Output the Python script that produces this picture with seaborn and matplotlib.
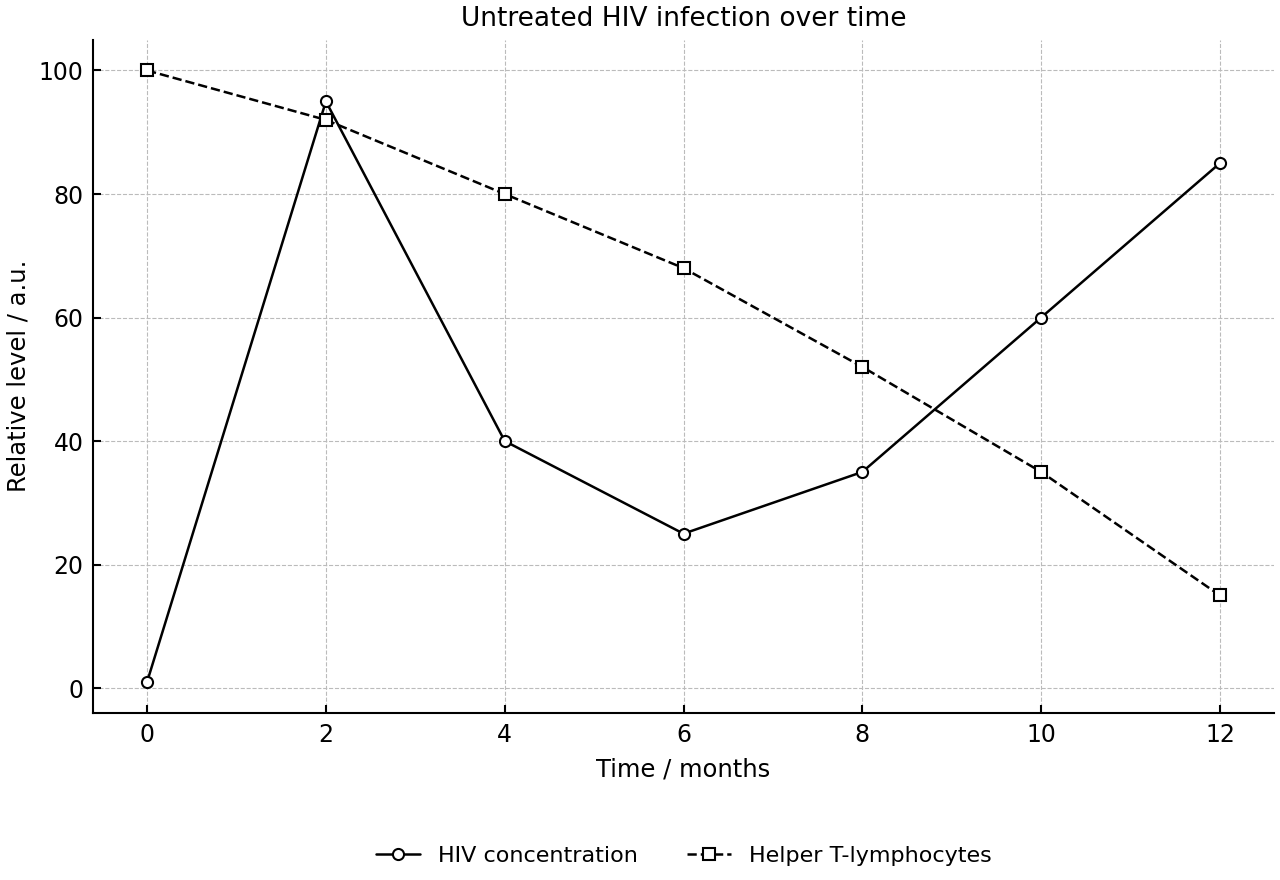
import numpy as np
import pandas as pd
import seaborn as sns
import matplotlib.pyplot as plt

# data
months = [0, 2, 4, 6, 8, 10, 12]
hiv = [1, 95, 40, 25, 35, 60, 85]
t_cells = [100, 92, 80, 68, 52, 35, 15]

df = pd.DataFrame({'month': months, 'HIV concentration': hiv,
                   'Helper T-lymphocytes': t_cells})

sns.set_style('ticks', {'text.color': 'black', 'axes.labelcolor': 'black',
                        'xtick.color': 'black', 'ytick.color': 'black',
                        'axes.edgecolor': 'black'})
plt.rcParams['font.family'] = ['DejaVu Sans']

fig, ax = plt.subplots(figsize=(12.8, 8.8), dpi=100)

sns.lineplot(data=df, x='month', y='HIV concentration', ax=ax, color='black',
             linewidth=1.8, marker='o', markersize=8, markerfacecolor='white',
             markeredgecolor='black', markeredgewidth=1.5, label='HIV concentration')
sns.lineplot(data=df, x='month', y='Helper T-lymphocytes', ax=ax, color='black',
             linewidth=1.8, linestyle='--', marker='s', markersize=8,
             markerfacecolor='white', markeredgecolor='black', markeredgewidth=1.5,
             label='Helper T-lymphocytes')

ax.set_title('Untreated HIV infection over time', fontsize=19, pad=10)
ax.set_xlabel('Time / months', fontsize=17.5, labelpad=8)
ax.set_ylabel('Relative level / a.u.', fontsize=17.5, labelpad=6)
ax.set_xticks(months)
ax.set_yticks([0, 20, 40, 60, 80, 100])
ax.set_xlim(-0.6, 12.6)
ax.set_ylim(-4, 105)
ax.tick_params(direction='in', labelsize=17, length=6, width=1.5, pad=7)
ax.grid(True, linestyle='--', color='#bbbbbb', linewidth=0.8)
sns.despine(ax=ax)
for s in ['left', 'bottom']:
    ax.spines[s].set_linewidth(1.5)

ax.legend(loc='upper center', bbox_to_anchor=(0.5, -0.168), ncol=2,
          frameon=False, fontsize=16, columnspacing=2.2)

fig.subplots_adjust(left=0.073, right=0.995, top=0.955, bottom=0.19)
fig.savefig('out.png', dpi=100)
